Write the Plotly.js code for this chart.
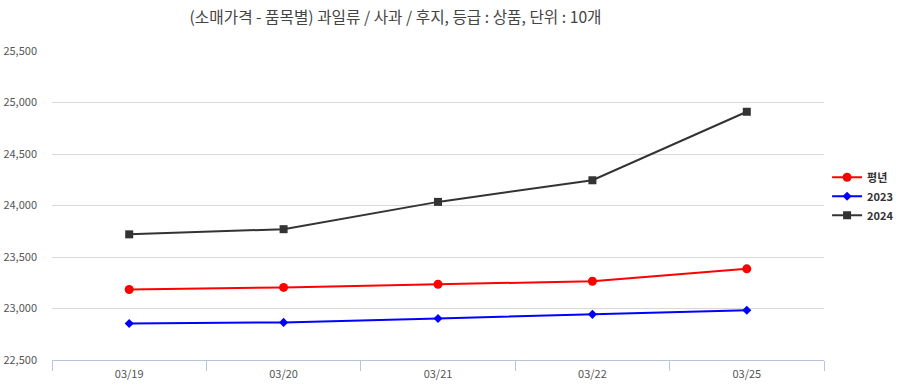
<!DOCTYPE html>
<html>
<head>
<meta charset="utf-8">
<script src="https://cdn.plot.ly/plotly-3.0.1.min.js"></script>
<style>html,body{margin:0;padding:0;background:#fff;}#chart{width:899px;height:390px;}</style>
</head>
<body>
<div id="chart"></div>
<script>
const categories = ['03/19', '03/20', '03/21', '03/22', '03/25'];
const normalYear = [23185, 23205, 23235, 23265, 23385];
const y2023 = [22855, 22865, 22903, 22943, 22983];
const y2024 = [23720, 23770, 24035, 24245, 24910];
const seriesNames = ['평년', '2023', '2024'];
const yTicks = [22500, 23000, 23500, 24000, 24500, 25000, 25500];

const font = "'Noto Sans CJK KR', 'Noto Sans', sans-serif";

const traces = [
  {x: categories, y: normalYear, name: seriesNames[0], type: 'scatter', mode: 'lines+markers',
   line: {color: '#ff0000', width: 2}, marker: {symbol: 'circle', size: 9, color: '#ff0000'}},
  {x: categories, y: y2023, name: seriesNames[1], type: 'scatter', mode: 'lines+markers',
   line: {color: '#0000ff', width: 2}, marker: {symbol: 'diamond', size: 7, color: '#0000ff'}},
  {x: categories, y: y2024, name: seriesNames[2], type: 'scatter', mode: 'lines+markers',
   line: {color: '#333333', width: 2}, marker: {symbol: 'square', size: 8, color: '#333333'}}
];

const layout = {
  width: 899, height: 390,
  margin: {l: 52, r: 75, t: 51, b: 30, autoexpand: false},
  paper_bgcolor: '#ffffff', plot_bgcolor: '#ffffff',
  font: {family: font, color: '#555555', size: 11},
  title: {text: '(소매가격 - 품목별) 과일류 / 사과 / 후지, 등급 : 상품, 단위 : 10개',
          x: 0.44, xanchor: 'center', y: 0.955, yanchor: 'middle',
          font: {family: font, size: 15.7, color: '#444444'}},
  xaxis: {type: 'category', range: [-0.5, 4.5], tickson: 'boundaries', ticks: 'outside', ticklen: 10,
          tickcolor: '#b8c4d8', showline: true, linecolor: '#b8c4d8', linewidth: 1,
          showgrid: false, zeroline: false, fixedrange: true, ticklabelstandoff: 4,
          tickfont: {family: font, size: 11, color: '#555555'}},
  yaxis: {range: [22500, 25500], tickvals: yTicks, tickformat: ',d', showgrid: true,
          gridcolor: '#d9d9d9', gridwidth: 1, zeroline: false, showline: false, ticks: '',
          ticklabelstandoff: 14,
          tickfont: {family: font, size: 11, color: '#555555'}},
  showlegend: true,
  legend: {x: 1.004, xanchor: 'left', y: 0.53, yanchor: 'middle', tracegroupgap: 0,
           font: {family: font, size: 11, color: '#333333', weight: 'bold'}, itemwidth: 30}
};

Plotly.newPlot('chart', traces, layout, {displayModeBar: false, staticPlot: true});
</script>
</body>
</html>
